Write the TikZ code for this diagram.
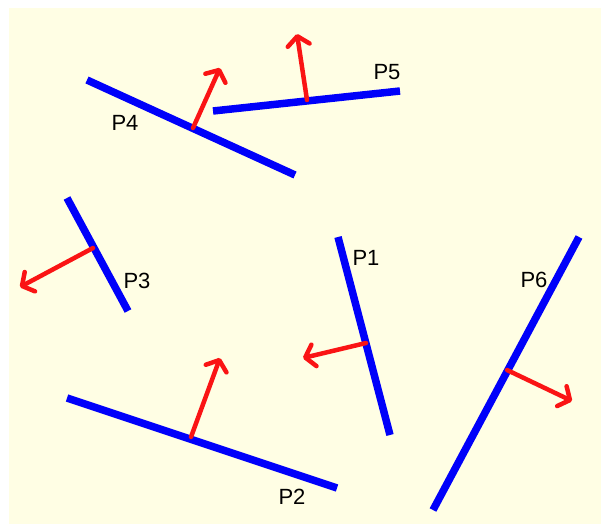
\documentclass[tikz,border=0pt]{standalone}
\usepackage{fontspec}
\setmainfont{Liberation Sans}
\usepackage{xcolor}
\usetikzlibrary{arrows.meta}
\definecolor{cream}{RGB}{255,254,228}
\definecolor{planeblue}{RGB}{0,0,250}
\definecolor{normalred}{RGB}{250,20,20}
\tikzset{plane/.style={line width=7.5pt,planeblue},
  normal/.style={line width=4.5pt,normalred,line cap=round,-{Straight Barb[length=9pt,width=22pt,round]}},
  lbl/.style={font=\fontsize{22}{26}\selectfont,inner sep=0pt}}

\begin{document}
\begin{tikzpicture}[x=1pt,y=-1pt]
\useasboundingbox(0,0)rectangle(601,524);
\fill[cream](9,8)rectangle(601,524);
% planes
\coordinate(a1)at(338,237);\coordinate(b1)at(390,435);
\coordinate(a2)at(67,398);\coordinate(b2)at(337,488);
\coordinate(a3)at(67,198);\coordinate(b3)at(128,311);
\coordinate(a4)at(87,80);\coordinate(b4)at(295,175);
\coordinate(a5)at(213,111);\coordinate(b5)at(400,91);
\coordinate(a6)at(579,237);\coordinate(b6)at(433,510);
\draw[plane](a1)--(b1);
\draw[plane](a2)--(b2);
\draw[plane](a3)--(b3);
\draw[plane](a4)--(b4);
\draw[plane](a5)--(b5);
\draw[plane](a6)--(b6);
% normals
\coordinate(o1)at(366,343);\coordinate(n1)at(303,358);
\coordinate(o2)at(191,437);\coordinate(n2)at(220,358);
\coordinate(o3)at(93,248);\coordinate(n3)at(20,287);
\coordinate(o4)at(193,128);\coordinate(n4)at(220,68);
\coordinate(o5)at(307,100);\coordinate(n5)at(297,34);
\coordinate(o6)at(507,370);\coordinate(n6)at(572,401);
\draw[normal](o1)--(n1);
\draw[normal](o2)--(n2);
\draw[normal](o3)--(n3);
\draw[normal](o4)--(n4);
\draw[normal](o5)--(n5);
\draw[normal](o6)--(n6);
% labels
\node[lbl](p1)at(366,258){P1};
\node[lbl](p2)at(292,497){P2};
\node[lbl](p3)at(137,281){P3};
\node[lbl](p4)at(125,123){P4};
\node[lbl](p5)at(387,72){P5};
\node[lbl](p6)at(534,280){P6};
\end{tikzpicture}
\end{document}
